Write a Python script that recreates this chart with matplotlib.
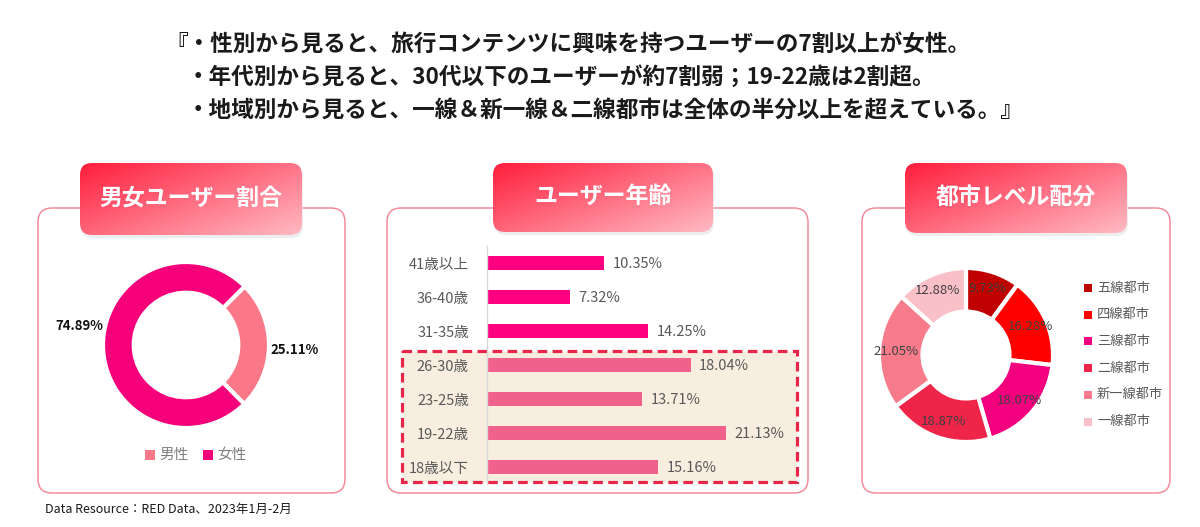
import matplotlib
matplotlib.use('Agg')
import matplotlib.pyplot as plt
import numpy as np
from matplotlib.patches import FancyBboxPatch, Rectangle
from matplotlib.colors import to_rgb

plt.rcParams['font.family'] = ['Noto Sans CJK JP', 'DejaVu Sans']

# ---------------- data ----------------
title_lines = ['『・性別から見ると、旅行コンテンツに興味を持つユーザーの7割以上が女性。',
               '・年代別から見ると、30代以下のユーザーが約7割弱；19-22歳は2割超。',
               '・地域別から見ると、一線＆新一線＆二線都市は全体の半分以上を超えている。』']
panel_titles = ['男女ユーザー割合', 'ユーザー年齢', '都市レベル配分']

gender_labels = ['男性', '女性']
gender_values = [25.11, 74.89]

age_labels = ['41歳以上', '36-40歳', '31-35歳', '26-30歳', '23-25歳', '19-22歳', '18歳以下']
age_values = [10.35, 7.32, 14.25, 18.04, 13.71, 21.13, 15.16]

city_labels = ['五線都市', '四線都市', '三線都市', '二線都市', '新一線都市', '一線都市']
city_values = [9.73, 16.28, 18.07, 18.87, 21.05, 12.88]

footnote = 'Data Resource：RED Data、2023年1月-2月'

# ---------------- styles ----------------
gender_colors = ['#FA7888', '#F5007A']
age_colors = ['#FF0080'] * 3 + ['#F0628C'] * 4
city_colors = ['#C00000', '#FF0000', '#F2007E', '#EE2549', '#F77B8A', '#FAC0C8']

W, H = 1200, 527
fig = plt.figure(figsize=(12, 5.27), dpi=100)
bg = fig.add_axes([0, 0, 1, 1])
bg.axis('off')


def px_axes(x0, y0, x1, y1):
    a = fig.add_axes([x0 / W, 1 - y1 / H, (x1 - x0) / W, (y1 - y0) / H])
    a.patch.set_alpha(0)
    return a


# title
bg.text(165, 44, title_lines[0], fontsize=16.3, fontweight='bold', color='#1A1A1A', va='center', ha='left')
bg.text(187, 77, title_lines[1], fontsize=16.3, fontweight='bold', color='#1A1A1A', va='center', ha='left')
bg.text(187, 111, title_lines[2], fontsize=16.3, fontweight='bold', color='#1A1A1A', va='center', ha='left')

# panels
panels = [(38, 208, 345, 493), (387, 208, 808, 493), (862, 208, 1170, 493)]
for x0, y0, x1, y1 in panels:
    bg.add_patch(FancyBboxPatch((x0, y0), x1 - x0, y1 - y0,
                                boxstyle='round,pad=0,rounding_size=14',
                                fc='white', ec='#F28C9B', lw=1.1, zorder=1))

# header boxes with gradient
headers = [(80, 163, 302, 235), (493, 163, 713, 232), (905, 163, 1127, 233)]
c0 = np.array(to_rgb('#FF1E3C'))
c1 = np.array(to_rgb('#FFBAC4'))
for (x0, y0, x1, y1), name in zip(headers, panel_titles):
    shadow = FancyBboxPatch((x0 + 1, y0 + 3), x1 - x0, y1 - y0,
                            boxstyle='round,pad=0,rounding_size=12',
                            fc='#E6E6E6', ec='none', alpha=0.7, zorder=2)
    bg.add_patch(shadow)
    patch = FancyBboxPatch((x0, y0), x1 - x0, y1 - y0,
                           boxstyle='round,pad=0,rounding_size=12',
                           fc='none', ec='none', zorder=3)
    bg.add_patch(patch)
    w, h = x1 - x0, y1 - y0
    xx, yy = np.meshgrid(np.linspace(0, 1, w), np.linspace(0, 1, h))
    t = np.clip(0.55 * xx + 0.45 * yy, 0, 1)[..., None]
    img = c0 * (1 - t) + c1 * t
    im = bg.imshow(img, extent=(x0, x1, y1, y0), origin='upper', aspect='auto',
                   interpolation='bilinear', zorder=3)
    im.set_clip_path(patch)
    bg.text((x0 + x1) / 2, (y0 + y1) / 2 - 1, name, fontsize=16.5, fontweight='bold',
            color='white', ha='center', va='center', zorder=4)

# dashed highlight box behind youth bars
bg.add_patch(Rectangle((402, 351), 395, 131, fc='#F8EEDF', ec='#E8264A', lw=2.3,
                       ls=(0, (3, 1.7)), zorder=2))

# footnote
bg.text(45, 509, footnote, fontsize=9, color='#1A1A1A', ha='left', va='center')

bg.set_xlim(0, W)
bg.set_ylim(H, 0)

# ---------------- gender donut ----------------
cx, cy, R, s = 186, 345, 83, 260
axg = px_axes(cx - s / 2, cy - s / 2, cx + s / 2, cy + s / 2)
axg.pie(gender_values, colors=gender_colors, startangle=45, counterclock=False, radius=1,
        wedgeprops=dict(width=0.37, edgecolor='white', linewidth=3))
lim = s / 2 / R
axg.set_xlim(-lim, lim)
axg.set_ylim(-lim, lim)
axg.set_aspect('equal')
axg.axis('off')
label_pos = [(1.02, -0.06, 'left'), (-1.0, 0.23, 'right')]
for v, (lx, ly, ha) in zip(gender_values, label_pos):
    axg.text(lx, ly, f'{v:.2f}%', fontsize=9.5, fontweight='bold', color='#111111', ha=ha, va='center')

# legend
leg_x = [145, 203]
for lab, col, x in zip(gender_labels, gender_colors, leg_x):
    bg.add_patch(Rectangle((x, 450), 10, 10, fc=col, ec='none', zorder=3))
    bg.text(x + 14, 455, lab, fontsize=10.5, color='#7F7F7F', ha='left', va='center', zorder=4)

# ---------------- age bars ----------------
axb = px_axes(487, 246, 800, 484)
y = np.arange(len(age_values))
axb.barh(y, age_values, height=0.4, color=age_colors)
axb.set_ylim(len(age_values) - 0.5, -0.5)
axb.set_xlim(0, (800 - 487) / 11.3)
axb.set_yticks(y)
axb.set_yticklabels(age_labels)
axb.set_xticks([])
for sp in ['top', 'right', 'bottom']:
    axb.spines[sp].set_visible(False)
axb.spines['left'].set_color('#D9D9D9')
axb.spines['left'].set_linewidth(1)
axb.tick_params(axis='y', length=0, pad=13, labelsize=10.5, labelcolor='#595959')
for yi, v in zip(y, age_values):
    axb.annotate(f'{v:.2f}%', (v, yi), xytext=(6, -1), textcoords='offset points',
                 ha='left', va='center', fontsize=10.5, color='#595959')

# ---------------- city donut ----------------
cx, cy, R, s = 966, 355, 87, 200
axc = px_axes(cx - s / 2, cy - s / 2, cx + s / 2, cy + s / 2)
axc.pie(city_values, colors=city_colors, startangle=90, counterclock=False, radius=1,
        wedgeprops=dict(width=0.5, edgecolor='white', linewidth=3))
lim = s / 2 / R
axc.set_xlim(-lim, lim)
axc.set_ylim(-lim, lim)
axc.set_aspect('equal')
axc.axis('off')
total = sum(city_values)
cum = 0
for v in city_values:
    ang = np.deg2rad(90 - (cum + v / 2) / total * 360)
    axc.text(0.81 * np.cos(ang), 0.81 * np.sin(ang), f'{v:.2f}%', fontsize=9.5,
             color='#404040', ha='center', va='center')
    cum += v

for i, (lab, col) in enumerate(zip(city_labels, city_colors)):
    yy = 288 + i * 26.7
    bg.add_patch(Rectangle((1084, yy - 4), 8, 8, fc=col, ec='none', zorder=3))
    bg.text(1097, yy, lab, fontsize=9.5, color='#595959', ha='left', va='center', zorder=4)

fig.savefig('out.png', dpi=100)
